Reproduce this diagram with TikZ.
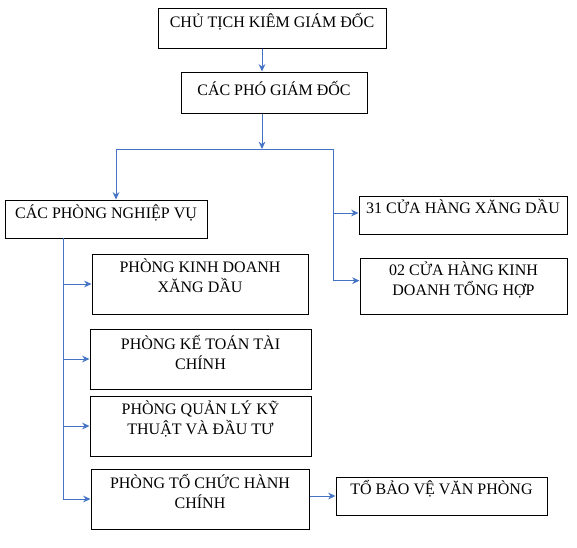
\documentclass[tikz,border=0pt]{standalone}
\usepackage{fontspec}
\setmainfont{Liberation Serif}
\usetikzlibrary{arrows.meta}
\definecolor{wordblue}{RGB}{68,114,196}

\begin{document}
\begin{tikzpicture}[x=0.75pt,y=-0.75pt,>={Stealth[length=5.5pt,width=5pt]},
                    box node/.style={draw,line width=0.75pt,inner sep=0pt},
                    label node/.style={anchor=north,inner sep=0pt,align=center,
                                       font=\fontsize{12}{15}\selectfont},
                    link/.style={draw=wordblue,line width=0.75pt}]
  \useasboundingbox (0,0) rectangle (577,547);
  % boxes
  \node[box node,minimum width=171pt,minimum height=30pt] (chutich) at (272,28) {};
  \node[box node,minimum width=139.5pt,minimum height=30.75pt] (phogd) at (274,92.5) {};
  \node[box node,minimum width=151.5pt,minimum height=28.5pt] (nghiepvu) at (106,219) {};
  \node[box node,minimum width=156pt,minimum height=28.5pt] (cuahang31) at (463,215) {};
  \node[box node,minimum width=155.25pt,minimum height=42pt] (cuahang02) at (463.5,286) {};
  \node[box node,minimum width=162pt,minimum height=45pt] (kinhdoanh) at (200,284) {};
  \node[box node,minimum width=165.75pt,minimum height=45pt] (ketoan) at (200.5,359) {};
  \node[box node,minimum width=165.75pt,minimum height=45pt] (quanly) at (200.5,426) {};
  \node[box node,minimum width=163.5pt,minimum height=45pt] (tochuc) at (200,499) {};
  \node[box node,minimum width=158.25pt,minimum height=28.5pt] (baove) at (441.5,496) {};
  % texts
  \node[label node] (chutich-t) at ([yshift=-4pt]chutich.north) {CHỦ TỊCH KIÊM GIÁM ĐỐC};
  \node[label node] (phogd-t) at ([yshift=-7pt]phogd.north) {CÁC PHÓ GIÁM ĐỐC};
  \node[label node] (nghiepvu-t) at ([yshift=-4pt]nghiepvu.north) {CÁC PHÒNG NGHIỆP VỤ};
  \node[label node] (cuahang31-t) at ([yshift=-3pt]cuahang31.north) {31 CỬA HÀNG XĂNG DẦU};
  \node[label node] (cuahang02-t) at ([yshift=-3pt]cuahang02.north) {02 CỬA HÀNG KINH\\DOANH TỔNG HỢP};
  \node[label node] (kinhdoanh-t) at ([yshift=-4pt]kinhdoanh.north) {PHÒNG KINH DOANH\\XĂNG DẦU};
  \node[label node] (ketoan-t) at ([yshift=-5pt]ketoan.north) {PHÒNG KẾ TOÁN TÀI\\CHÍNH};
  \node[label node] (quanly-t) at ([yshift=-4pt]quanly.north) {PHÒNG QUẢN LÝ KỸ\\THUẬT VÀ ĐẦU TƯ};
  \node[label node] (tochuc-t) at ([yshift=-4pt]tochuc.north) {PHÒNG TỔ CHỨC HÀNH\\CHÍNH};
  \node[label node] (baove-t) at ([yshift=-3pt]baove.north) {TỔ BẢO VỆ VĂN PHÒNG};
  % connectors
  \coordinate (col) at (262,0);
  \coordinate (split) at (262,149);
  \coordinate (splitL) at (116,149);
  \coordinate (splitR) at (333,149);
  \coordinate (trunk) at (63,238);
  \draw[link,->] (chutich.south -| col) -- (phogd.north -| col);
  \draw[link,->] (phogd.south -| col) -- (split);
  \draw[link] (splitL) -- (splitR);
  \draw[link,->] (splitL) -- (splitL |- nghiepvu.north);
  \draw[link,->] (splitR) |- ([yshift=1.5pt]cuahang31.west);
  \draw[link,->] (splitR) |- ([yshift=4pt]cuahang02.west);
  \draw[link,->] (trunk) |- (kinhdoanh.west);
  \draw[link,->] (trunk) |- (ketoan.west);
  \draw[link,->] (trunk) |- (quanly.west);
  \draw[link,->] (trunk) |- (tochuc.west);
  \draw[link,->] (baove.west -| tochuc.east) -- (baove.west);
\end{tikzpicture}
\end{document}
